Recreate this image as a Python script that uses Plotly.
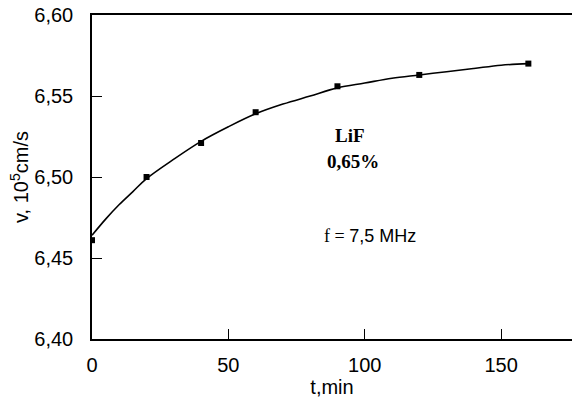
import plotly.graph_objects as go

# measured points
t_points = [0, 20, 40, 60, 90, 120, 160]
v_points = [6.461, 6.500, 6.521, 6.540, 6.556, 6.563, 6.570]

# fitted curve
t_curve = [0, 5, 10, 15, 20, 30, 40, 50, 60, 70, 80, 90, 100, 110, 120, 130, 140, 150, 160]
v_curve = [6.464, 6.474, 6.483, 6.491, 6.499, 6.511, 6.522, 6.531, 6.539, 6.545, 6.550,
           6.555, 6.558, 6.561, 6.563, 6.565, 6.567, 6.569, 6.570]

x_ticks = [0, 50, 100, 150]
y_ticks = [6.40, 6.45, 6.50, 6.55, 6.60]

fig = go.Figure()
fig.add_trace(go.Scatter(x=t_curve, y=v_curve, mode="lines",
                         line=dict(color="black", width=1.6, shape="spline"),
                         showlegend=False, hoverinfo="skip"))
fig.add_trace(go.Scatter(x=t_points, y=v_points, mode="markers",
                         marker=dict(symbol="square", size=6, color="black"),
                         showlegend=False))

tick_font = dict(family="Liberation Sans, Arial, sans-serif", size=20, color="black")

fig.update_layout(
    width=572, height=403,
    margin=dict(l=92, r=0, t=15, b=64),
    paper_bgcolor="white", plot_bgcolor="white",
    separators=",.",
    font=tick_font,
    xaxis=dict(range=[0, 176], tickvals=x_ticks, ticktext=[str(v) for v in x_ticks],
               ticks="inside", ticklen=10, tickwidth=1.3, tickcolor="black",
               showline=True, linecolor="black", linewidth=1.5, mirror=True,
               showgrid=False, zeroline=False, tickfont=tick_font, automargin=False,
               ticklabelstandoff=7,
               title=dict(text="t,min", font=tick_font, standoff=2)),
    yaxis=dict(range=[6.40, 6.60], tickvals=y_ticks, tickformat=".2f",
               ticks="inside", ticklen=10, tickwidth=1.3, tickcolor="black",
               showline=True, linecolor="black", linewidth=1.5, mirror=False,
               showgrid=False, zeroline=False, tickfont=tick_font, automargin=False,
               ticklabelstandoff=13,
               title=dict(text="v, 10<sup>5</sup>cm/s", font=tick_font, standoff=0)),
)

times_bold = dict(family="Liberation Serif, Times New Roman, serif", size=19, color="black")
fig.add_annotation(x=(350 - 92) / 480 * 176, y=6.60 - (136 - 15) / 1624, text="<b>LiF</b>",
                   showarrow=False, font=times_bold, xref="x", yref="y")
fig.add_annotation(x=(353 - 92) / 480 * 176, y=6.60 - (162 - 15) / 1624, text="<b>0,65%</b>",
                   showarrow=False, font=times_bold, xref="x", yref="y")
fig.add_annotation(x=(370 - 92) / 480 * 176, y=6.60 - (237 - 15) / 1624,
                   text="<span style=\"font-family:'Liberation Serif', serif\">f = </span>7,5 MHz",
                   showarrow=False, font=dict(family="Liberation Sans, Arial, sans-serif", size=18, color="black"),
                   xref="x", yref="y")

fig.write_html("out.html", config={"displayModeBar": False},
               post_script="document.body.style.margin='0px';document.body.style.overflow='hidden';")
